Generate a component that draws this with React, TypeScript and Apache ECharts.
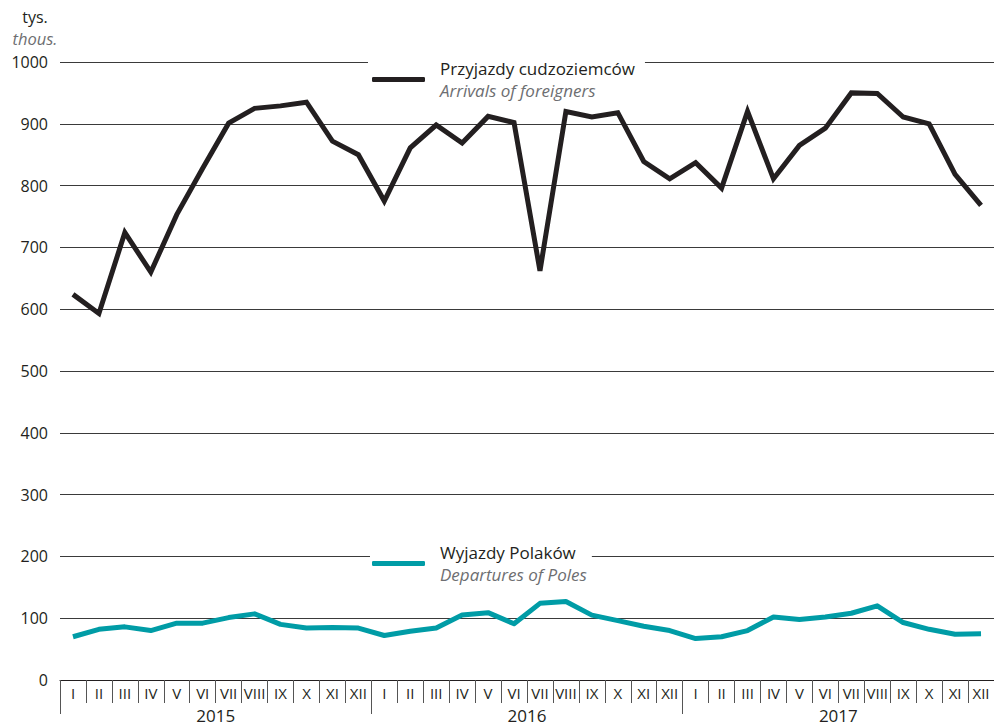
import React, { useEffect, useRef } from 'react';
import * as echarts from 'echarts';

const years = ['2015', '2016', '2017'];
const months = ['I', 'II', 'III', 'IV', 'V', 'VI', 'VII', 'VIII', 'IX', 'X', 'XI', 'XII'];
const seriesNames = ['Przyjazdy cudzoziemców', 'Wyjazdy Polaków'];
const seriesNamesEn = ['Arrivals of foreigners', 'Departures of Poles'];
const arrivals = [
  624, 593, 724, 660, 753, 828, 901, 925, 929, 935, 872, 850,
  775, 861, 898, 869, 912, 902, 662, 920, 911, 918, 839, 811,
  837, 796, 920, 811, 865, 893, 950, 949, 911, 900, 818, 768,
];
const departures = [
  70, 82, 86, 80, 92, 92, 101, 107, 90, 84, 85, 84,
  72, 79, 84, 105, 109, 91, 124, 127, 105, 96, 87, 80,
  67, 70, 80, 102, 98, 102, 108, 120, 93, 82, 74, 75,
];
const yTicks = { min: 0, max: 1000, interval: 100 };
const unitLabels = ['tys.', 'thous.'];

const FONT = '"Open Sans", "Noto Sans", sans-serif';
const TEXT = '#231f20';
const GRAY = '#6d6e71';
const BLACK_LINE = '#231f20';
const TEAL = '#009ca6';

export default function App() {
  const ref = useRef<HTMLDivElement>(null);
  useEffect(() => {
    document.body.style.margin = '0';
    if (!ref.current) return;
    const chart = echarts.init(ref.current, undefined, { renderer: 'svg' });
    const monthKeys = years.flatMap((y) => months.map((m) => `${m} ${y}`));
    const legendFor = (i: number, left: number, top: number, pad: number[], lh: number) => ({
      data: [seriesNames[i]],
      left,
      top,
      orient: 'horizontal',
      backgroundColor: '#ffffff',
      padding: pad,
      icon: 'roundRect',
      itemWidth: 53,
      itemHeight: 5,
      selectedMode: false,
      formatter: (name: string) => `{a|${name}}\n{b|${seriesNamesEn[seriesNames.indexOf(name)]}}`,
      textStyle: {
        rich: {
          a: { fontSize: 17, fontFamily: FONT, color: TEXT, lineHeight: lh, padding: [0, 0, 0, 10] },
          b: { fontSize: 17, fontFamily: FONT, color: GRAY, fontStyle: 'italic', lineHeight: lh, padding: [0, 0, 0, 10] },
        },
      },
    });
    chart.setOption({
      animation: false,
      grid: { left: 60, top: 62, width: 941.5, height: 618, containLabel: false },
      xAxis: [
        {
          type: 'category',
          data: monthKeys,
          position: 'bottom',
          boundaryGap: true,
          axisLine: { show: true, lineStyle: { color: '#231f20', width: 1 } },
          axisTick: { show: true, interval: 0, length: 23, lineStyle: { color: '#555', width: 1 } },
          axisLabel: {
            interval: 0,
            margin: 5,
            fontSize: 15,
            fontFamily: FONT,
            color: TEXT,
            formatter: (v: string) => v.split(' ')[0],
          },
          splitLine: { show: false },
        },
        {
          type: 'category',
          data: years,
          position: 'bottom',
          gridIndex: 0,
          boundaryGap: true,
          axisLine: { show: false },
          axisTick: { show: true, interval: 0, length: 34, lineStyle: { color: '#555', width: 1 } },
          axisLabel: { interval: 0, margin: 27, fontSize: 17, fontFamily: FONT, color: TEXT },
          splitLine: { show: false },
        },
      ],
      yAxis: {
        type: 'value',
        min: yTicks.min,
        max: yTicks.max,
        interval: yTicks.interval,
        axisLine: { show: false },
        axisTick: { show: false },
        axisLabel: { margin: 12, fontSize: 16, fontFamily: FONT, color: TEXT, formatter: (v: number) => String(v) },
        splitLine: { show: true, lineStyle: { color: '#3a3a3a', width: 1 } },
      },
      legend: [
        legendFor(0, 368, 56, [4, 10, 4, 4], 22),
        legendFor(1, 370, 542, [2, 5, 2, 2], 22),
      ],
      graphic: [
        {
          type: 'text',
          x: 35,
          y: 17,
          style: { text: unitLabels[0], fill: TEXT, font: `16px ${FONT}`, align: 'center', verticalAlign: 'middle' },
        },
        {
          type: 'text',
          x: 35,
          y: 38,
          style: { text: unitLabels[1], fill: GRAY, font: `italic 16.5px ${FONT}`, align: 'center', verticalAlign: 'middle' },
        },
      ],
      series: [
        {
          name: seriesNames[0],
          type: 'line',
          data: arrivals,
          xAxisIndex: 0,
          symbol: 'none',
          color: BLACK_LINE,
          lineStyle: { color: BLACK_LINE, width: 5, join: 'miter', miterLimit: 4 },
          z: 3,
        },
        {
          name: seriesNames[1],
          type: 'line',
          data: departures,
          xAxisIndex: 0,
          symbol: 'none',
          color: TEAL,
          lineStyle: { color: TEAL, width: 5, join: 'round' },
          z: 3,
        },
      ],
    });
    return () => chart.dispose();
  }, []);
  return <div ref={ref} style={{ width: 994, height: 727 }} />;
}
